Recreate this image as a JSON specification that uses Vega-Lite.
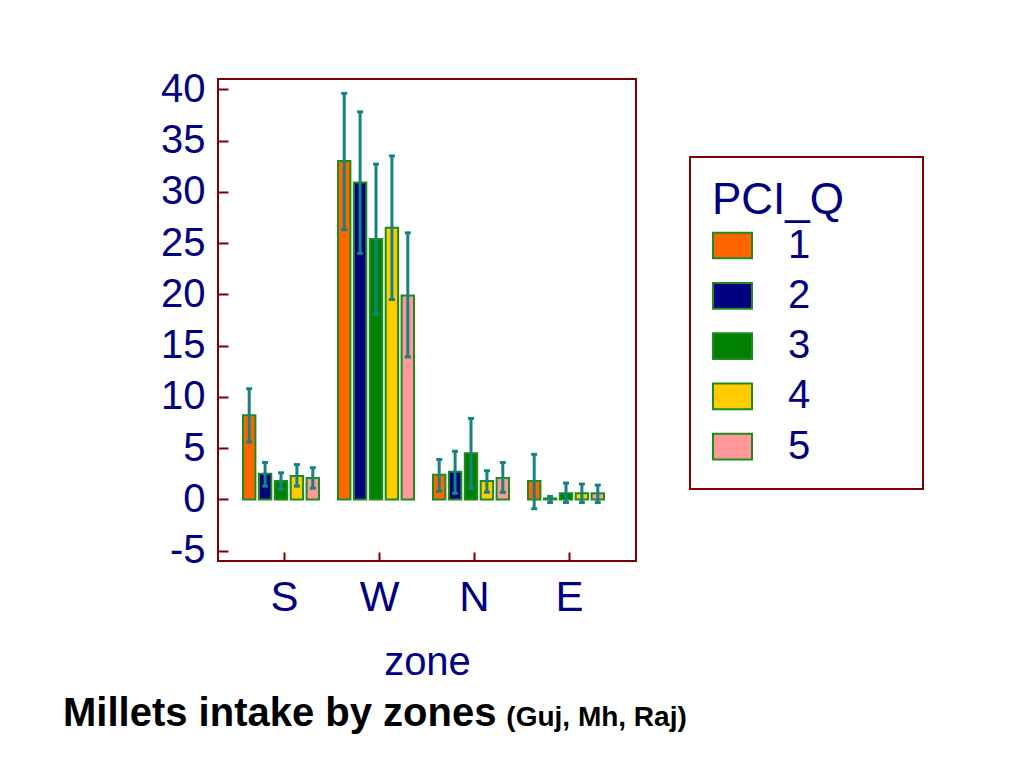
{
  "$schema": "https://vega.github.io/schema/vega-lite/v6.json",
  "width": 418,
  "height": 482,
  "autosize": {"type": "none"},
  "padding": {"left": 218, "top": 79, "right": 388, "bottom": 207},
  "background": "white",
  "title": {
    "text": "Millets intake by zones",
    "subtitle": "\u200b\u2003\u2003\u2003\u2003\u2003\u2003\u2003\u2003\u2003\u2003\u2003\u2003\u2003\u2003\u2003\u00a0\u00a0\u00a0(Guj, Mh, Raj)",
    "orient": "bottom",
    "anchor": "start",
    "frame": "group",
    "dx": -155,
    "offset": 12,
    "font": "Liberation Sans",
    "fontSize": 40,
    "fontWeight": "bold",
    "color": "black",
    "subtitleFont": "Liberation Sans",
    "subtitleFontSize": 28,
    "subtitleFontWeight": "bold",
    "subtitleColor": "black",
    "subtitlePadding": -30.5
  },
  "config": {
    "view": {"stroke": "#800000", "strokeWidth": 2},
    "legend": {"strokeWidth": 2}
  },
  "data": {
    "values": [
      {"zone": "S", "q": "1", "value": 8.2, "lo": 5.6, "hi": 10.8},
      {"zone": "S", "q": "2", "value": 2.5, "lo": 1.3, "hi": 3.6},
      {"zone": "S", "q": "3", "value": 1.8, "lo": 1.0, "hi": 2.6},
      {"zone": "S", "q": "4", "value": 2.3, "lo": 1.3, "hi": 3.4},
      {"zone": "S", "q": "5", "value": 2.1, "lo": 1.1, "hi": 3.1},
      {"zone": "W", "q": "1", "value": 33.0, "lo": 26.3, "hi": 39.6},
      {"zone": "W", "q": "2", "value": 30.9, "lo": 24.0, "hi": 37.8},
      {"zone": "W", "q": "3", "value": 25.4, "lo": 18.1, "hi": 32.7},
      {"zone": "W", "q": "4", "value": 26.5, "lo": 19.5, "hi": 33.5},
      {"zone": "W", "q": "5", "value": 19.9, "lo": 13.9, "hi": 26.0},
      {"zone": "N", "q": "1", "value": 2.4, "lo": 0.8, "hi": 3.9},
      {"zone": "N", "q": "2", "value": 2.7, "lo": 0.6, "hi": 4.7},
      {"zone": "N", "q": "3", "value": 4.5, "lo": 1.1, "hi": 7.9},
      {"zone": "N", "q": "4", "value": 1.8, "lo": 0.7, "hi": 2.8},
      {"zone": "N", "q": "5", "value": 2.1, "lo": 0.7, "hi": 3.6},
      {"zone": "E", "q": "1", "value": 1.8, "lo": -0.9, "hi": 4.4},
      {"zone": "E", "q": "2", "value": 0.1, "lo": -0.3, "hi": 0.3},
      {"zone": "E", "q": "3", "value": 0.6, "lo": -0.3, "hi": 1.6},
      {"zone": "E", "q": "4", "value": 0.6, "lo": -0.3, "hi": 1.5},
      {"zone": "E", "q": "5", "value": 0.6, "lo": -0.3, "hi": 1.4}
    ]
  },
  "encoding": {
    "x": {
      "field": "zone",
      "type": "nominal",
      "sort": ["S", "W", "N", "E"],
      "title": "zone",
      "scale": {"paddingInner": 0.2, "paddingOuter": 0.3},
      "axis": {
        "labelAngle": 0,
        "labelFont": "Liberation Sans",
        "labelFontSize": 42,
        "labelColor": "#000080",
        "labelPadding": 25,
        "tickSize": -9,
        "tickWidth": 2,
        "tickColor": "#800000",
        "domain": false,
        "grid": false,
        "titleFont": "Liberation Sans",
        "titleFontSize": 40,
        "titleFontWeight": "normal",
        "titleColor": "#000080",
        "titlePadding": 24
      }
    },
    "xOffset": {"field": "q", "type": "nominal", "scale": {"paddingInner": 0.22, "range": [-3.5, 72.5]}}
  },
  "layer": [
    {
      "mark": {"type": "bar", "stroke": "#1E8B1E", "strokeWidth": 2},
      "encoding": {
        "y": {
          "field": "value",
          "type": "quantitative",
          "title": null,
          "scale": {"domain": [-6, 41], "nice": false, "zero": false},
          "axis": {
            "values": [-5, 0, 5, 10, 15, 20, 25, 30, 35, 40],
            "labelExpr": "replace(datum.label, '\u2212', '-')",
            "labelFont": "Liberation Sans",
            "labelFontSize": 40,
            "labelColor": "#000080",
            "labelPadding": 23,
            "tickSize": -10,
            "tickWidth": 2,
            "tickColor": "#800000",
            "domain": false,
            "grid": false
          }
        },
        "y2": {"datum": 0},
        "color": {
          "field": "q",
          "type": "nominal",
          "scale": {
            "domain": ["1", "2", "3", "4", "5"],
            "range": ["#FF6600", "#000080", "#008000", "#FFCC00", "#FF9999"]
          },
          "legend": {
            "orient": "none",
            "legendX": 472,
            "legendY": 78,
            "title": "PCI_Q\u2003\u00a0\u200b",
            "titleLimit": 400,
            "titleFont": "Liberation Sans",
            "titleFontSize": 44,
            "titleFontWeight": "normal",
            "titleColor": "#000080",
            "titlePadding": 2,
            "labelFont": "Liberation Sans",
            "labelFontSize": 40,
            "labelColor": "#000080",
            "labelOffset": 35,
            "symbolType": "M-1,-0.66H1V0.66H-1Z",
            "symbolSize": 1521,
            "symbolStrokeColor": "#1E8B1E",
            "symbolStrokeWidth": 2,
            "symbolOpacity": 1,
            "padding": 22,
            "rowPadding": 9.3,
            "strokeColor": "#800000"
          }
        }
      }
    },
    {
      "mark": {"type": "rule", "color": "#168282", "strokeWidth": 3},
      "encoding": {
        "y": {"field": "lo", "type": "quantitative", "title": null},
        "y2": {"field": "hi"}
      }
    },
    {
      "mark": {"type": "tick", "color": "#168282", "thickness": 3, "size": 6, "opacity": 1},
      "encoding": {
        "y": {"field": "lo", "type": "quantitative", "title": null}
      }
    },
    {
      "mark": {"type": "tick", "color": "#168282", "thickness": 3, "size": 6, "opacity": 1},
      "encoding": {
        "y": {"field": "hi", "type": "quantitative", "title": null}
      }
    }
  ]
}
